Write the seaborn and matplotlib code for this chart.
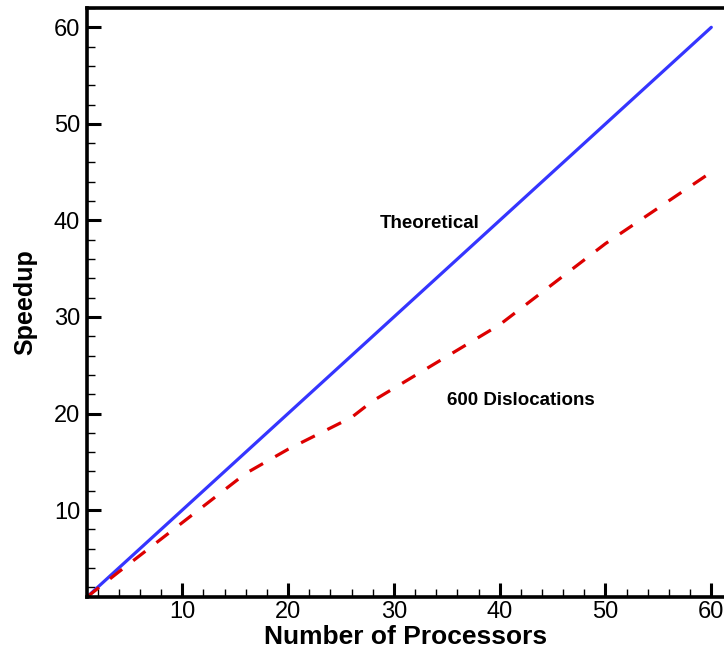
import matplotlib
matplotlib.use("Agg")
import matplotlib.pyplot as plt
import seaborn as sns
import pandas as pd
from matplotlib.ticker import MultipleLocator

# Ideal linear speedup
theory_procs = [1, 60]
theory_speedup = [1, 60]

# Measured speedup, 600 dislocations
procs = [1, 4, 8, 16, 20, 26, 28, 40, 50, 60]
speedup = [1.0, 3.6, 7.0, 13.8, 16.3, 19.6, 21.3, 29.2, 37.6, 45.0]

sns.set_theme(style="white")
plt.rcParams["font.family"] = ["Liberation Sans", "DejaVu Sans"]

fig = plt.figure(figsize=(7.24, 6.52), dpi=100)
ax = fig.add_axes([87 / 724, 55 / 652, 637 / 724, 589 / 652])

df_theory = pd.DataFrame({"procs": theory_procs, "speedup": theory_speedup})
df_meas = pd.DataFrame({"procs": procs, "speedup": speedup})

sns.lineplot(data=df_theory, x="procs", y="speedup", ax=ax,
             color="#3535ff", linewidth=2.3)
sns.lineplot(data=df_meas, x="procs", y="speedup", ax=ax,
             color="#dd0000", linewidth=2.3)
ax.lines[1].set_dashes((4.8, 4.4))

ax.set_xlim(1, 61.2)
ax.set_ylim(1, 62)

ax.xaxis.set_major_locator(MultipleLocator(10))
ax.xaxis.set_minor_locator(MultipleLocator(2))
ax.yaxis.set_major_locator(MultipleLocator(10))
ax.yaxis.set_minor_locator(MultipleLocator(2))

ax.tick_params(which="major", direction="in", length=10, width=2.2,
               labelsize=17, color="black", labelcolor="black", pad=5)
ax.tick_params(which="minor", direction="in", length=6, width=1.0,
               color="black")
ax.tick_params(axis="x", which="both", bottom=True, top=False, pad=3)
ax.tick_params(axis="y", which="both", left=True, right=False)

for side in ["left", "bottom", "top"]:
    ax.spines[side].set_linewidth(2.6)
    ax.spines[side].set_color("black")
ax.spines["right"].set_visible(False)

ax.set_xlabel("Number of Processors", fontsize=19, fontweight="bold",
              color="black", labelpad=1.5)
ax.set_ylabel("Speedup", fontsize=18, fontweight="bold", color="black",
              labelpad=12)

ax.text(33.4, 39.7, "Theoretical", fontsize=13.5, fontweight="bold",
        ha="center", va="center", color="black")
ax.text(42.0, 21.4, "600 Dislocations", fontsize=13.5, fontweight="bold",
        ha="center", va="center", color="black")

fig.savefig("out.png", dpi=100)
